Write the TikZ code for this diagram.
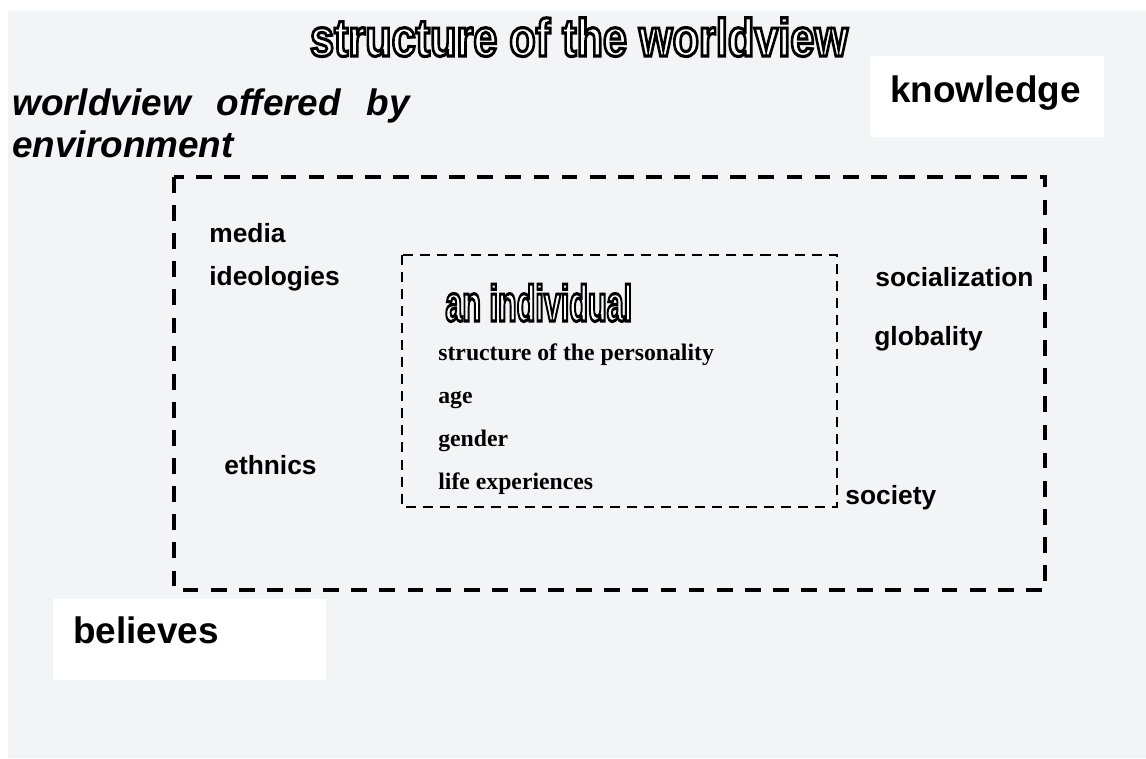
\documentclass[tikz,border=0pt]{standalone}
\usepackage{fontspec}
\setmainfont{Liberation Sans}
\newfontfamily\timesfont{Liberation Serif}
\usepackage{graphicx}
\usetikzlibrary{positioning}
\definecolor{paper}{HTML}{F3F4F6}
% white letters with a black outline
\newcommand{\hollow}[2]{\scalebox{#1}[1]{\special{pdf:literal direct 2 Tr 1.8 w 0 0 0 RG 1 1 1 rg}#2\special{pdf:literal direct 0 Tr 0 0 0 RG 0 0 0 rg}}}
\tikzset{
    outerframe/.style={draw, line width=2.5pt, dash pattern=on 9pt off 7pt},
    innerframe/.style={draw, line width=1.3pt, dash pattern=on 5.7pt off 4pt},
    heading/.style={font=\fontsize{30}{32}\selectfont\bfseries, inner sep=0pt},
    bigword/.style={font=\fontsize{21}{25}\selectfont\bfseries, anchor=base west, inner sep=0pt},
    factor/.style={font=\fontsize{15}{18}\selectfont\bfseries, anchor=base west, inner sep=0pt},
    trait/.style={font=\timesfont\fontsize{13.5}{16}\selectfont\bfseries, anchor=base west, inner sep=0pt}
}
\begin{document}
\begin{tikzpicture}[x=0.02cm, y=-0.02cm]
    \useasboundingbox (0,0) rectangle (1146,758);
    \fill[paper] (8,11) rectangle (1146,758);
    % boxes
    \fill[white] (870,56) rectangle (1104,137);
    \fill[white] (53,599) rectangle (326,680);
    \draw[outerframe] (174,177) rectangle (1045,590);
    \draw[innerframe] (402,255) rectangle (837,507);
    % headings
    \node[heading, anchor=base] (title) at (579,56) {\hollow{0.82}{structure of the worldview}};
    \node[heading, font=\fontsize{29}{31}\selectfont\bfseries, anchor=base west] (individual) at (445,321) {\hollow{0.6}{an individual}};
    \node[bigword, font=\fontsize{21}{25}\selectfont\bfseries\itshape] (offered) at (12,115) {worldview\hspace{0.7em}offered\hspace{0.7em}by};
    \node[bigword, font=\fontsize{21}{25}\selectfont\bfseries\itshape] (environment) at (12,157) {environment};
    \node[bigword] (knowledge) at (890,102) {knowledge};
    \node[bigword] (believes) at (73,643) {believes};
    % environment factors
    \node[factor] (media) at (209,242) {media};
    \node[factor] (ideologies) at (209,285) {ideologies};
    \node[factor] (ethnics) at (224,474) {ethnics};
    \node[factor] (socialization) at (875,286) {socialization};
    \node[factor] (globality) at (874,345) {globality};
    \node[factor] (society) at (845,504) {society};
    % individual traits
    \node[trait] (personality) at (438,360) {structure of the personality};
    \node[trait] (age) at (438,403) {age};
    \node[trait] (gender) at (438,446) {gender};
    \node[trait] (experiences) at (438,489) {life experiences};
\end{tikzpicture}
\end{document}
